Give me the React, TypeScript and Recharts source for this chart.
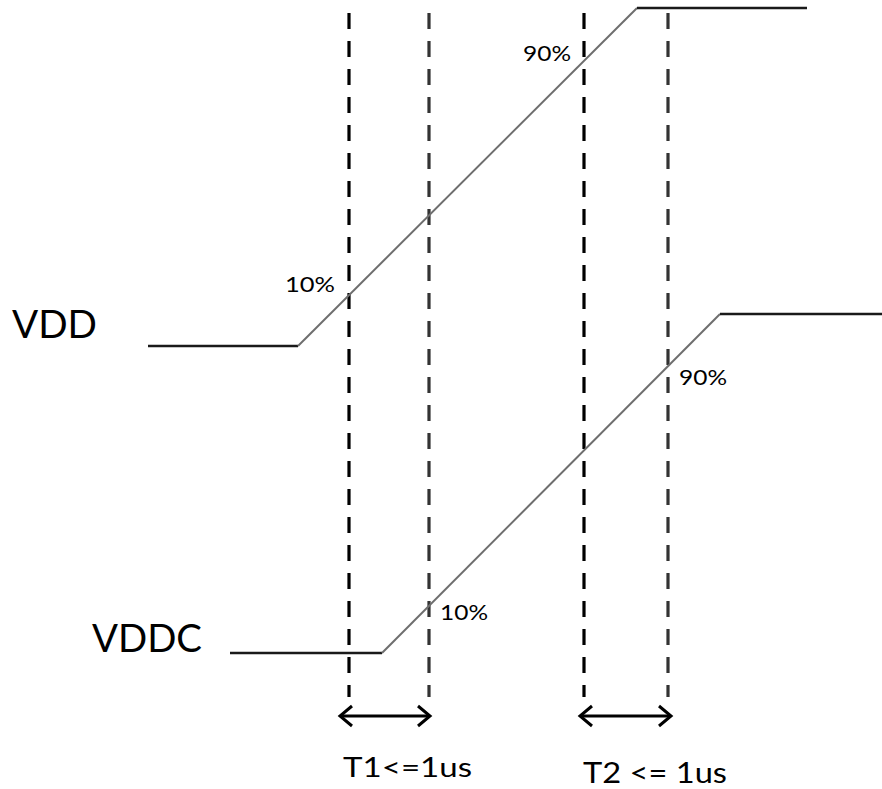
import React from 'react';
import { ComposedChart, Line, Scatter, XAxis, YAxis } from 'recharts';

// Signal waveforms (time units across, level units down)
const vddTimes = [148, 298, 637, 807];
const vddLevels = [346, 346, 8, 8];
const vddcTimes = [230, 382, 720, 882];
const vddcLevels = [653, 653, 314, 314];

// Dashed timing markers
const markerTimes = [349, 429, 584, 668];
const markerShades = ['#000000', '#333333', '#000000', '#333333'];
const markerTop = 13;
const markerBottom = 697;

// Double-headed interval arrows
const arrowStarts = [340, 580];
const arrowEnds = [430, 671];
const arrowLevel = 716;
const headLen = 12;
const headHalf = 10;

// Text labels
const labelTexts = ['VDD', 'VDDC', '10%', '90%', '10%', '90%', 'T1<=1us', 'T2 <= 1us'];
const labelX = [12, 92, 285, 523, 440, 679, 343, 583];
const labelY = [338, 652, 292, 61, 620, 385, 777, 783];
const labelWidths = [85, 110, 50, 48, 48, 48, 129, 144];
const labelSizes = [39, 38, 22, 22, 22, 22, 26, 28];

type P = { x: number; y: number };

function segments(times: number[], levels: number[]) {
  const out: { data: P[]; ramp: boolean }[] = [];
  for (let i = 0; i < times.length - 1; i++) {
    out.push({
      data: [
        { x: times[i], y: levels[i] },
        { x: times[i + 1], y: levels[i + 1] },
      ],
      ramp: levels[i] !== levels[i + 1],
    });
  }
  return out;
}

const waveSegments = [...segments(vddTimes, vddLevels), ...segments(vddcTimes, vddcLevels)];

const markerData = markerTimes.map((t) => [
  { x: t, y: markerTop },
  { x: t, y: markerBottom },
]);

const arrowShafts = arrowStarts.map((s, i) => [
  { x: s + 1, y: arrowLevel },
  { x: arrowEnds[i] - 1, y: arrowLevel },
]);
const arrowHeads: P[][] = [];
arrowStarts.forEach((s, i) => {
  const e = arrowEnds[i];
  arrowHeads.push([
    { x: s + headLen, y: arrowLevel - headHalf },
    { x: s, y: arrowLevel },
    { x: s + headLen, y: arrowLevel + headHalf },
  ]);
  arrowHeads.push([
    { x: e - headLen, y: arrowLevel - headHalf },
    { x: e, y: arrowLevel },
    { x: e - headLen, y: arrowLevel + headHalf },
  ]);
});

const labelData = labelTexts.map((text, i) => ({
  x: labelX[i],
  y: labelY[i],
  text,
  w: labelWidths[i],
  size: labelSizes[i],
}));

const LabelShape = (props: any) => {
  const { cx, cy, payload } = props;
  if (cx == null || cy == null) return null;
  return (
    <text
      x={cx}
      y={cy}
      fontSize={payload.size}
      fontFamily="Lato, 'Open Sans', sans-serif"
      fill="#000"
      textLength={payload.w}
      lengthAdjust="spacingAndGlyphs"
    >
      {payload.text}
    </text>
  );
};

export default function App() {
  return (
    <div style={{ position: 'absolute', left: 0, top: 0, background: '#fff' }}>
      <ComposedChart width={882} height={789} margin={{ top: 0, right: 0, bottom: 0, left: 0 }}>
        <XAxis type="number" dataKey="x" domain={[0, 882]} hide allowDataOverflow />
        <YAxis type="number" dataKey="y" domain={[0, 789]} reversed hide allowDataOverflow />
        {markerData.map((d, i) => (
          <Line
            key={'m' + i}
            data={d}
            dataKey="y"
            type="linear"
            stroke={markerShades[i]}
            strokeWidth={3.2}
            strokeDasharray="16 12"
            dot={false}
            activeDot={false}
            isAnimationActive={false}
          />
        ))}
        {waveSegments.map((s, i) => (
          <Line
            key={'w' + i}
            data={s.data}
            dataKey="y"
            type="linear"
            stroke={s.ramp ? '#6e6e6e' : '#1a1a1a'}
            strokeWidth={s.ramp ? 2 : 2.5}
            dot={false}
            activeDot={false}
            isAnimationActive={false}
          />
        ))}
        {arrowShafts.map((d, i) => (
          <Line
            key={'a' + i}
            data={d}
            dataKey="y"
            type="linear"
            stroke="#000"
            strokeWidth={3}
            dot={false}
            activeDot={false}
            isAnimationActive={false}
          />
        ))}
        {arrowHeads.map((d, i) => (
          <Line
            key={'h' + i}
            data={d}
            dataKey="y"
            type="linear"
            stroke="#000"
            strokeWidth={3}
            strokeLinejoin="miter"
            dot={false}
            activeDot={false}
            isAnimationActive={false}
          />
        ))}
        <Scatter data={labelData} dataKey="y" shape={LabelShape} isAnimationActive={false} />
      </ComposedChart>
    </div>
  );
}
